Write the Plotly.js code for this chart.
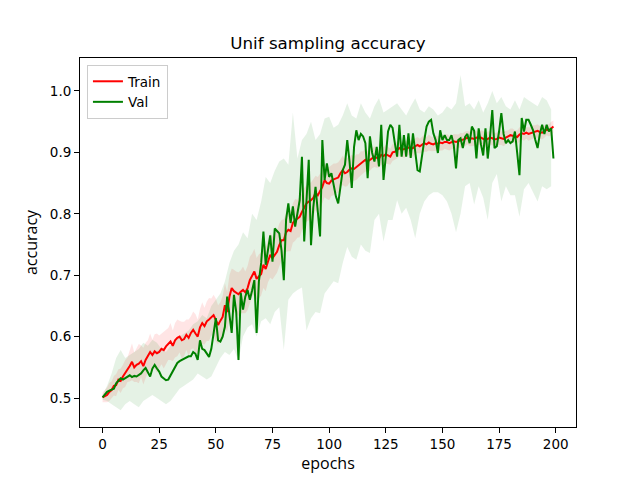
<!DOCTYPE html>
<html>
<head>
<meta charset="utf-8">
<script src="https://cdn.plot.ly/plotly-3.0.1.min.js"></script>
<style>html,body{margin:0;padding:0;background:#fff;}#chart{width:640px;height:480px;}</style>
</head>
<body>
<div id="chart"></div>
<script>
// epochs 0..199
const epochs = Array.from({length: 200}, (_, i) => i);

const trainAcc = [
0.501,0.503,0.505,0.510,0.513,0.520,0.521,0.530,0.528,0.535,
0.540,0.546,0.552,0.559,0.550,0.554,0.556,0.560,0.552,0.562,
0.568,0.575,0.570,0.576,0.573,0.575,0.580,0.578,0.584,0.588,
0.592,0.585,0.594,0.598,0.600,0.594,0.596,0.603,0.598,0.606,
0.611,0.605,0.600,0.615,0.622,0.617,0.625,0.628,0.632,0.635,
0.627,0.619,0.626,0.632,0.651,0.640,0.665,0.679,0.674,0.672,
0.669,0.673,0.676,0.672,0.679,0.692,0.700,0.706,0.694,0.698,
0.702,0.717,0.710,0.722,0.733,0.728,0.734,0.738,0.749,0.757,
0.757,0.770,0.774,0.772,0.785,0.790,0.792,0.795,0.803,0.810,
0.817,0.820,0.822,0.826,0.834,0.830,0.836,0.844,0.855,0.850,
0.849,0.854,0.856,0.858,0.859,0.866,0.871,0.866,0.868,0.872,
0.874,0.873,0.876,0.878,0.882,0.884,0.888,0.885,0.888,0.890,
0.893,0.891,0.890,0.896,0.894,0.897,0.895,0.893,0.900,0.901,
0.904,0.907,0.904,0.905,0.906,0.908,0.906,0.907,0.910,0.912,
0.910,0.913,0.915,0.913,0.916,0.914,0.913,0.915,0.914,0.916,
0.915,0.917,0.917,0.915,0.916,0.918,0.917,0.918,0.920,0.920,
0.922,0.924,0.922,0.923,0.922,0.924,0.923,0.924,0.922,0.920,
0.922,0.924,0.923,0.921,0.922,0.924,0.923,0.922,0.924,0.926,
0.928,0.927,0.926,0.925,0.929,0.931,0.930,0.932,0.930,0.931,
0.933,0.934,0.935,0.933,0.932,0.934,0.937,0.936,0.939,0.942
];

const valAcc = [
0.501,0.505,0.510,0.512,0.513,0.515,0.524,0.528,0.532,0.530,
0.532,0.535,0.537,0.534,0.536,0.535,0.537,0.540,0.545,0.549,
0.542,0.535,0.548,0.554,0.548,0.543,0.535,0.532,0.529,0.530,
0.537,0.545,0.550,0.557,0.560,0.562,0.565,0.566,0.568,0.568,
0.575,0.572,0.562,0.594,0.580,0.578,0.572,0.567,0.580,0.606,
0.630,0.594,0.592,0.600,0.616,0.665,0.635,0.606,0.668,0.640,
0.562,0.671,0.644,0.665,0.676,0.660,0.675,0.692,0.606,0.690,
0.720,0.771,0.717,0.740,0.765,0.722,0.776,0.772,0.768,0.740,
0.692,0.790,0.817,0.785,0.812,0.779,0.800,0.822,0.893,0.755,
0.820,0.888,0.749,0.810,0.844,0.797,0.763,0.920,0.855,0.882,
0.860,0.866,0.844,0.828,0.817,0.845,0.871,0.880,0.920,0.885,
0.842,0.909,0.936,0.920,0.930,0.926,0.915,0.858,0.926,0.899,
0.885,0.909,0.877,0.945,0.855,0.893,0.934,0.945,0.940,0.915,
0.893,0.945,0.893,0.928,0.893,0.931,0.891,0.931,0.900,0.871,
0.869,0.899,0.920,0.942,0.950,0.953,0.931,0.920,0.899,0.936,
0.920,0.928,0.920,0.920,0.928,0.912,0.874,0.920,0.923,0.907,
0.925,0.930,0.915,0.942,0.935,0.890,0.939,0.913,0.895,0.939,
0.890,0.925,0.969,0.907,0.910,0.934,0.964,0.930,0.915,0.920,
0.915,0.918,0.934,0.899,0.863,0.956,0.934,0.953,0.953,0.945,
0.936,0.920,0.907,0.930,0.945,0.930,0.945,0.934,0.939,0.890
];

const trainStd = [
0.008,0.010,0.012,0.015,0.014,0.016,0.018,0.017,0.020,0.019,
0.022,0.020,0.025,0.030,0.024,0.028,0.032,0.026,0.030,0.028,
0.026,0.030,0.025,0.028,0.032,0.027,0.025,0.030,0.028,0.026,
0.030,0.025,0.028,0.030,0.026,0.030,0.028,0.025,0.030,0.027,
0.030,0.032,0.028,0.030,0.034,0.030,0.032,0.035,0.030,0.033,
0.035,0.032,0.030,0.034,0.036,0.033,0.035,0.032,0.035,0.034,
0.036,0.035,0.038,0.034,0.036,0.038,0.035,0.037,0.034,0.036,
0.035,0.038,0.036,0.034,0.037,0.035,0.036,0.034,0.035,0.033,
0.034,0.032,0.035,0.033,0.032,0.034,0.031,0.033,0.030,0.032,
0.030,0.031,0.029,0.030,0.028,0.030,0.029,0.027,0.028,0.026,
0.027,0.025,0.026,0.024,0.025,0.023,0.024,0.022,0.023,0.021,
0.022,0.020,0.021,0.019,0.020,0.018,0.019,0.017,0.018,0.016,
0.017,0.016,0.015,0.016,0.014,0.015,0.014,0.013,0.014,0.013,
0.014,0.013,0.012,0.014,0.013,0.012,0.013,0.014,0.012,0.013,
0.012,0.013,0.014,0.012,0.013,0.012,0.011,0.013,0.012,0.013,
0.012,0.011,0.013,0.012,0.011,0.012,0.013,0.011,0.012,0.011,
0.012,0.011,0.012,0.013,0.011,0.012,0.011,0.012,0.013,0.011,
0.012,0.011,0.012,0.011,0.010,0.012,0.011,0.012,0.011,0.010,
0.011,0.012,0.010,0.011,0.012,0.010,0.011,0.010,0.011,0.010,
0.011,0.010,0.011,0.010,0.011,0.010,0.009,0.010,0.011,0.010
];

// validation band edges, read every 2 epochs (0, 2, ..., 198)
const valBandEpochs = Array.from({length: 100}, (_, i) => i * 2);
const valUpper = [
0.505,0.520,0.540,0.565,0.578,0.565,0.570,0.575,0.580,0.590,
0.585,0.595,0.590,0.580,0.575,0.585,0.595,0.600,0.605,0.610,
0.620,0.625,0.635,0.630,0.650,0.660,0.670,0.690,0.720,0.740,
0.750,0.770,0.760,0.800,0.790,0.820,0.860,0.850,0.870,0.885,
0.890,0.880,0.965,0.890,0.920,0.930,0.950,0.920,0.930,0.955,
0.958,0.940,0.945,0.960,0.980,0.960,0.955,0.980,0.965,0.955,
0.975,0.988,0.965,0.970,0.975,0.980,0.970,0.960,0.975,0.988,
0.970,0.965,0.975,0.970,0.960,0.965,0.975,0.970,0.980,1.026,
0.975,0.980,0.970,0.985,0.965,0.980,1.000,0.980,0.990,0.975,
0.970,0.985,0.970,0.990,0.985,0.980,0.975,0.990,0.985,0.970
];
const valLower = [
0.497,0.495,0.490,0.485,0.480,0.490,0.495,0.490,0.485,0.495,
0.500,0.505,0.500,0.495,0.490,0.495,0.505,0.515,0.520,0.525,
0.530,0.540,0.535,0.530,0.535,0.550,0.565,0.575,0.570,0.580,
0.560,0.600,0.615,0.620,0.600,0.625,0.630,0.620,0.640,0.648,
0.578,0.660,0.670,0.676,0.680,0.610,0.630,0.640,0.638,0.670,
0.680,0.690,0.687,0.720,0.746,0.730,0.725,0.750,0.740,0.736,
0.790,0.800,0.755,0.790,0.790,0.822,0.800,0.810,0.790,0.760,
0.800,0.820,0.830,0.835,0.835,0.830,0.820,0.800,0.770,0.800,
0.845,0.850,0.815,0.845,0.826,0.790,0.850,0.865,0.820,0.845,
0.830,0.830,0.795,0.840,0.850,0.835,0.820,0.845,0.840,0.845
];

const xTicks = [0, 25, 50, 75, 100, 125, 150, 175, 200];
const yTicks = [0.5, 0.6, 0.7, 0.8, 0.9, 1.0];
const yTickLabels = ['0.5', '0.6', '0.7', '0.8', '0.9', '1.0'];

const trainUpper = trainAcc.map((v, i) => v + trainStd[i]);
const trainLower = trainAcc.map((v, i) => v - trainStd[i]);

const traces = [
  {x: epochs, y: trainUpper, mode: 'lines', line: {width: 0, color: 'rgba(255,0,0,0)'}, showlegend: false, hoverinfo: 'skip'},
  {x: epochs, y: trainLower, mode: 'lines', line: {width: 0, color: 'rgba(255,0,0,0)'}, fill: 'tonexty', fillcolor: 'rgba(255,0,0,0.1)', showlegend: false, hoverinfo: 'skip'},
  {x: valBandEpochs, y: valUpper, mode: 'lines', line: {width: 0, color: 'rgba(0,128,0,0)'}, showlegend: false, hoverinfo: 'skip'},
  {x: valBandEpochs, y: valLower, mode: 'lines', line: {width: 0, color: 'rgba(0,128,0,0)'}, fill: 'tonexty', fillcolor: 'rgba(0,128,0,0.1)', showlegend: false, hoverinfo: 'skip'},
  {x: epochs, y: trainAcc, mode: 'lines', name: 'Train', line: {color: '#ff0000', width: 2}},
  {x: epochs, y: valAcc, mode: 'lines', name: 'Val', line: {color: '#008000', width: 2}}
];

const axisCommon = {
  showline: true, mirror: true, linecolor: '#000', linewidth: 1,
  ticks: 'outside', ticklen: 5, tickwidth: 1, tickcolor: '#000',
  showgrid: false, zeroline: false,
  tickfont: {family: 'DejaVu Sans', size: 13.5, color: '#000'}
};

const layout = {
  width: 640, height: 480,
  margin: {l: 80, r: 64, t: 58, b: 53, pad: 0},
  paper_bgcolor: '#fff', plot_bgcolor: '#fff',
  title: {text: 'Unif sampling accuracy', font: {family: 'DejaVu Sans', size: 16.7, color: '#000'},
          x: 0.5125, xanchor: 'center', y: 1 - 43/480, yanchor: 'middle', yref: 'container'},
  xaxis: Object.assign({}, axisCommon, {
    range: [-9.95, 208.95], tickvals: xTicks,
    title: {text: 'epochs', font: {family: 'Open Sans', size: 16, color: '#000'}, standoff: 6}
  }),
  yaxis: Object.assign({}, axisCommon, {
    range: [0.4528, 1.0537], tickvals: yTicks, ticktext: yTickLabels,
    title: {text: 'accuracy', font: {family: 'Open Sans', size: 16, color: '#000'}, standoff: 8}
  }),
  showlegend: true,
  legend: {
    x: 0.014, y: 0.981, xanchor: 'left', yanchor: 'top',
    traceorder: 'normal',
    bgcolor: 'rgba(255,255,255,0.8)', bordercolor: '#cccccc', borderwidth: 1,
    font: {family: 'DejaVu Sans', size: 13.5, color: '#000'},
    tracegroupgap: 2
  }
};

Plotly.newPlot('chart', traces, layout, {staticPlot: true, displayModeBar: false});
</script>
</body>
</html>
